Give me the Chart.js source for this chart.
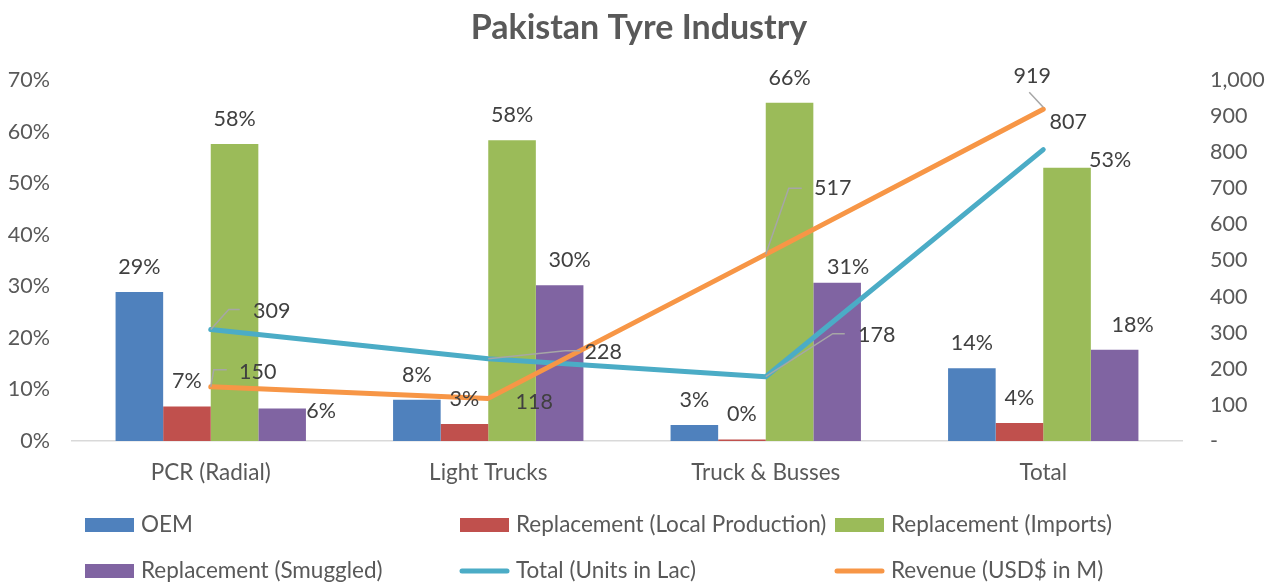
<!DOCTYPE html>
<html><head><meta charset="utf-8">
<script src="https://cdn.jsdelivr.net/npm/chart.js@4/dist/chart.umd.min.js"></script>
<style>html,body{margin:0;padding:0;background:#fff;} #wrap{width:1278px;height:585px;position:relative}</style>
</head><body><div id="wrap"><canvas id="c" width="1278" height="585"></canvas></div>
<script>
// ---- data ----
const categories = ['PCR (Radial)', 'Light Trucks', 'Truck & Busses', 'Total'];
const oem = [28.9, 8.0, 3.1, 14.1];
const replacementLocal = [6.7, 3.3, 0.3, 3.5];
const replacementImports = [57.6, 58.3, 65.6, 53.0];
const replacementSmuggled = [6.3, 30.2, 30.7, 17.7];
const totalUnits = [309, 228, 178, 807];
const revenue = [150, 118, 517, 919];
const seriesNames = ['OEM', 'Replacement (Local Production)', 'Replacement (Imports)',
  'Replacement (Smuggled)', 'Total (Units in Lac)', 'Revenue (USD$ in M)'];
const chartTitle = 'Pakistan Tyre Industry';

// ---- style ----
const FONT = 'Lato';
const colors = ['#4F81BD', '#C0504D', '#9BBB59', '#8064A2', '#4BACC6', '#F79646'];
const textColor = '#595959';
const labelColor = '#404040';
const barLabelNudge = { '3-0': [39, 28], '3-1': [10, 0], '3-2': [11, 9], '3-3': [18, 0], '2-3': [43, 17] };
const lineLabelLayout = {
  4: [
    { dx: 61, dy: -18, leader: [[0, 0], [18, -20], [29, -20]] },
    { dx: 115, dy: -7, leader: [[0, 0], [77, -8], [92, -8]] },
    { dx: 111, dy: -42, leader: [[0, 0], [67, -43], [79, -43]] },
    { dx: 25, dy: -28 }
  ],
  5: [
    { dx: 47, dy: -15, leader: [[0, 0], [3, -17], [16, -17]] },
    { dx: 46, dy: 3.5 },
    { dx: 67, dy: -66, leader: [[0, 0], [23, -66], [36, -66]] },
    { dx: -11, dy: -33, leader: [[0, -2], [-14, -17]] }
  ]
};

Chart.defaults.font.family = FONT;
Chart.defaults.color = textColor;

const decorPlugin = {
  id: 'decor',
  afterDatasetsDraw(chart) {
    const ctx = chart.ctx;
    ctx.save();
    ctx.font = '21.5px ' + FONT;
    ctx.fillStyle = labelColor;
    ctx.textAlign = 'center';
    ctx.textBaseline = 'middle';
    for (let i = 0; i < 4; i++) {
      const meta = chart.getDatasetMeta(i);
      meta.data.forEach((el, j) => {
        const v = chart.data.datasets[i].data[j];
        const n = barLabelNudge[i + '-' + j] || [0, 0];
        ctx.fillText(Math.round(v) + '%', el.x + n[0], el.y - 25 + n[1]);
      });
    }
    [4, 5].forEach(i => {
      const meta = chart.getDatasetMeta(i);
      meta.data.forEach((el, j) => {
        const L = lineLabelLayout[i][j];
        if (L.leader) {
          ctx.beginPath();
          ctx.strokeStyle = '#a6a6a6';
          ctx.lineWidth = 1.5;
          L.leader.forEach((p, k) => {
            if (k === 0) ctx.moveTo(el.x + p[0], el.y + p[1]);
            else ctx.lineTo(el.x + p[0], el.y + p[1]);
          });
          ctx.stroke();
        }
        const v = chart.data.datasets[i].data[j];
        ctx.fillStyle = labelColor;
        ctx.fillText(v.toLocaleString('en-US'), el.x + L.dx, el.y + L.dy);
      });
    });
    ctx.restore();
  },
  afterDraw(chart) {
    const ctx = chart.ctx;
    ctx.save();
    ctx.fillStyle = textColor;
    ctx.font = 'bold 34px ' + FONT;
    ctx.textAlign = 'center';
    ctx.textBaseline = 'middle';
    ctx.fillText(chartTitle, 639, 28);
    // legend
    const cols = [85, 460, 835];
    const rows = [525, 571];
    ctx.font = '22.5px ' + FONT;
    ctx.textAlign = 'left';
    seriesNames.forEach((name, k) => {
      const x = cols[k % 3], y = rows[Math.floor(k / 3)];
      if (k < 4) {
        ctx.fillStyle = colors[k];
        ctx.fillRect(x, y - 7, 49, 14);
      } else {
        ctx.beginPath();
        ctx.strokeStyle = colors[k];
        ctx.lineWidth = 5;
        ctx.lineCap = 'round';
        ctx.moveTo(x + 2, y);
        ctx.lineTo(x + 47, y);
        ctx.stroke();
      }
      ctx.fillStyle = textColor;
      ctx.fillText(name, x + 56, y);
    });
    ctx.restore();
  }
};

const barDs = [oem, replacementLocal, replacementImports, replacementSmuggled].map((d, i) => ({
  type: 'bar', label: seriesNames[i], data: d, backgroundColor: colors[i],
  borderWidth: 0, yAxisID: 'y', order: 2,
  categoryPercentage: 0.686, barPercentage: 1.0
}));
const lineDs = [totalUnits, revenue].map((d, i) => ({
  type: 'line', label: seriesNames[4 + i], data: d, borderColor: colors[4 + i],
  backgroundColor: colors[4 + i], borderWidth: 5, pointRadius: 0, pointHoverRadius: 0,
  borderCapStyle: 'round', borderJoinStyle: 'round', tension: 0, fill: false,
  yAxisID: 'y1', order: 1 - i
}));

new Chart(document.getElementById('c'), {
  data: { labels: categories, datasets: [...barDs, ...lineDs] },
  options: {
    responsive: false,
    animation: false,
    events: [],
    layout: { padding: { top: 80, bottom: 84, left: 0, right: 0 } },
    plugins: { legend: { display: false }, title: { display: false }, tooltip: { enabled: false } },
    scales: {
      x: {
        type: 'category', offset: true,
        grid: { display: false, drawTicks: false },
        border: { display: true, color: '#d9d9d9', width: 1.5 },
        ticks: { font: { size: 22.5, family: FONT }, color: textColor, padding: 18, maxRotation: 0 },
        afterFit(s) { s.height = 60; }
      },
      y: {
        position: 'left', min: 0, max: 70,
        grid: { display: false, drawTicks: false },
        border: { display: false },
        ticks: { stepSize: 10, font: { size: 21.5, family: FONT }, color: textColor, padding: 22,
          callback: v => v + '%' },
        afterFit(s) { s.width = 72; }
      },
      y1: {
        position: 'right', min: 0, max: 1000,
        grid: { display: false, drawTicks: false },
        border: { display: false },
        ticks: { stepSize: 100, font: { size: 21.5, family: FONT }, color: textColor, padding: 28,
          callback: v => v === 0 ? '-' : v.toLocaleString('en-US') },
        afterFit(s) { s.width = 96; }
      }
    }
  },
  plugins: [decorPlugin]
});
</script>
</body></html>
